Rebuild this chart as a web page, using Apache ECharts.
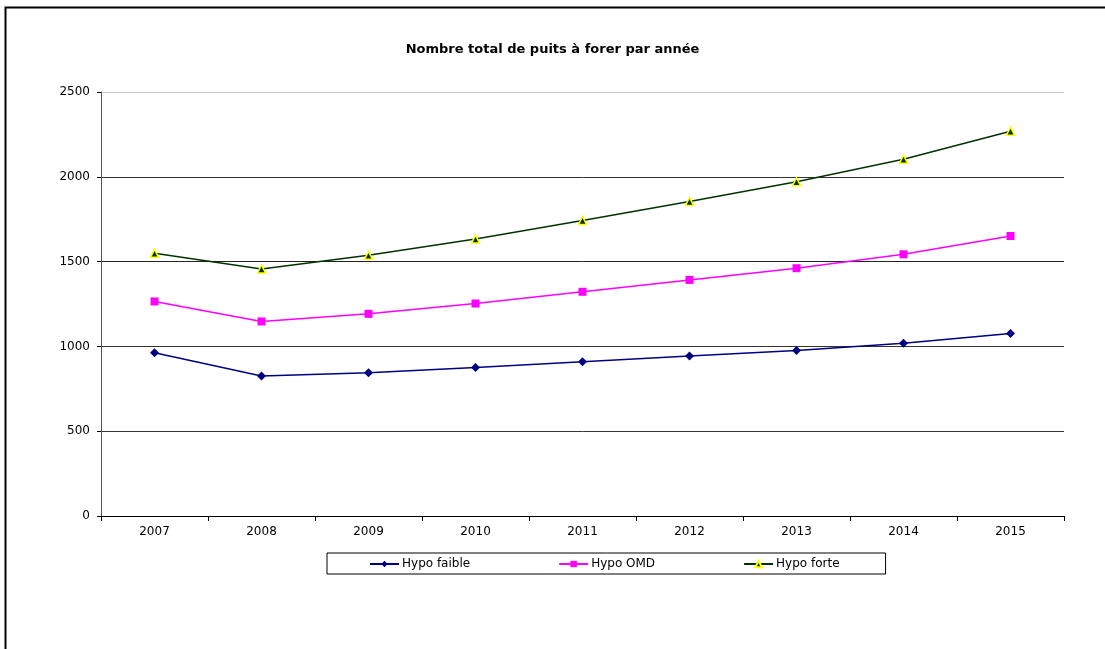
<!DOCTYPE html>
<html><head><meta charset="utf-8">
<script src="https://cdn.jsdelivr.net/npm/echarts@6/dist/echarts.min.js"></script>
<style>html,body{margin:0;padding:0;background:#fff}#c{width:1105px;height:649px}</style>
</head><body><div id="c"></div>
<script>
const years = ['2007','2008','2009','2010','2011','2012','2013','2014','2015'];
const hypoFaible = [963, 825, 845, 875, 910, 943, 976, 1018, 1076];
const hypoOMD = [1265, 1147, 1192, 1253, 1322, 1392, 1461, 1543, 1651];
const hypoForte = [1549, 1457, 1537, 1633, 1743, 1855, 1971, 2104, 2269];
const yTicks = [0, 500, 1000, 1500, 2000, 2500];

const font = '"DejaVu Sans", Verdana, sans-serif';
const chart = echarts.init(document.getElementById('c'), null, {renderer:'canvas'});
chart.setOption({
  animation:false,
  backgroundColor:'#fff',
  graphic:[{type:'rect', left:3, top:5, shape:{width:1250, height:800}, style:{fill:'none', stroke:'#000', lineWidth:2}, silent:true, z:-1}],
  title:{text:'Nombre total de puits à forer par année', left:'center', top:38,
    textStyle:{fontFamily:font, fontSize:13, fontWeight:'bold', color:'#000'}},
  legend:{
    left:327, top:553, orient:'horizontal',
    itemWidth:29, itemHeight:8, itemGap:88,
    padding:[5,46,4,42],
    borderColor:'#000', borderWidth:1,
    textStyle:{fontFamily:font, fontSize:12, color:'#000', padding:[0,0,0,-2]},
    data:['Hypo faible','Hypo OMD','Hypo forte']
  },
  grid:{left:101, right:41, top:92, bottom:133, containLabel:false},
  xAxis:{type:'category', data:years, boundaryGap:true,
    axisLine:{lineStyle:{color:'#000', width:1}},
    axisTick:{show:true, alignWithLabel:false, length:5, lineStyle:{color:'#000'}},
    axisLabel:{fontFamily:font, fontSize:12, color:'#000', margin:10}},
  yAxis:{type:'value', min:yTicks[0], max:yTicks[yTicks.length-1], interval:500,
    axisLine:{show:true, lineStyle:{color:'#555', width:1}},
    axisTick:{show:true, length:4, lineStyle:{color:'#000'}},
    axisLabel:{fontFamily:font, fontSize:12, color:'#000', margin:11, formatter:function(v){return String(v);}},
    splitLine:{show:true, lineStyle:{color:['#000','#333','#333','#222','#333','#c8c8c8'], width:1}}},
  series:[
    {name:'Hypo faible', type:'line', data:hypoFaible, symbol:'diamond', symbolSize:9,
      lineStyle:{color:'#000080', width:1.5}, itemStyle:{color:'#000080'}},
    {name:'Hypo OMD', type:'line', data:hypoOMD, symbol:'rect', symbolSize:8,
      lineStyle:{color:'#ff00ff', width:1.5}, itemStyle:{color:'#ff00ff'}},
    {name:'Hypo forte', type:'line', data:hypoForte, symbol:'triangle', symbolSize:8,
      lineStyle:{color:'#003300', width:1.5}, itemStyle:{color:'#003300', borderColor:'#ffff00', borderWidth:1.5}}
  ]
});
</script></body></html>
